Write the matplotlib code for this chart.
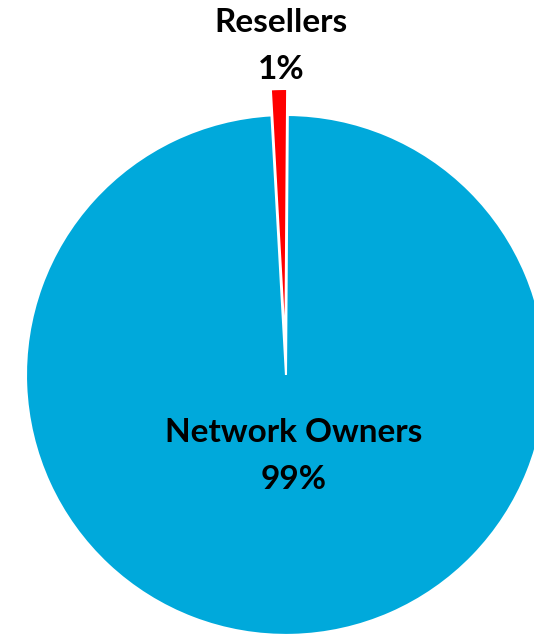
import matplotlib.pyplot as plt

labels = ["Resellers", "Network Owners"]
shares = [1, 99]
colors = ["#FF0000", "#00A9DB"]

fig = plt.figure(figsize=(5.34, 6.35), dpi=100)
ax = fig.add_axes([0, 0, 1, 1])

ax.pie(shares, colors=colors, explode=[0.1, 0], startangle=89.6,
       counterclock=True, radius=1.0,
       wedgeprops=dict(edgecolor="white", linewidth=1.5))

ax.set_xlim(-1.1, 0.954)
ax.set_ylim(-1.0, 1.442)
ax.set_aspect("equal")
ax.axis("off")

font = dict(family="Lato", weight="bold", fontsize=24, color="black",
            ha="center", va="center", linespacing=1.75)
ax.text(-0.02, 1.265, "%s\n%d%%" % (labels[0], shares[0]), **font)
ax.text(0.03, -0.31, "%s\n%d%%" % (labels[1], shares[1]), **font)

fig.savefig("out.png", dpi=100)
